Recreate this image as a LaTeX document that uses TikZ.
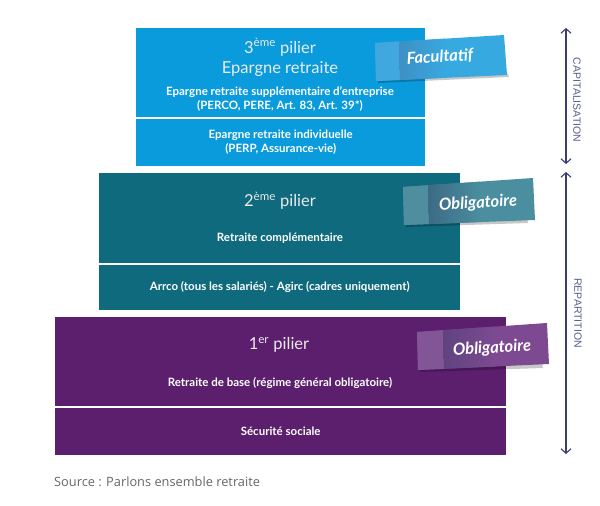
\documentclass[tikz,border=0pt]{standalone}
\usepackage{fontspec}
\usepackage{xcolor}
\setmainfont{Lato}
\newfontfamily\sourcefont{Open Sans}
\newfontfamily\labelfont{Liberation Sans}
\usetikzlibrary{arrows.meta, positioning, calc}

\definecolor{blueblock}{HTML}{0A9BDC}
\definecolor{tealblock}{HTML}{0E6A7C}
\definecolor{purpleblock}{HTML}{5B1F6D}
\definecolor{bluetag}{HTML}{37A9E1}
\definecolor{bluetagdark}{HTML}{3E8FC4}
\definecolor{bluetaglight}{HTML}{40A8DE}
\definecolor{tealtag}{HTML}{4A8EA0}
\definecolor{tealtagdark}{HTML}{3D6A85}
\definecolor{tealtaglight}{HTML}{4F8E9E}
\definecolor{purpletag}{HTML}{7D4A92}
\definecolor{purpletagdark}{HTML}{5F437F}
\definecolor{purpletaglight}{HTML}{825596}
\definecolor{arrowblue}{HTML}{3A3E72}

\tikzset{
    pillarbox/.style={rectangle, inner sep=0pt},
    titletext/.style={text=white!92!black, font=\fontsize{16.5}{20.5}\selectfont, align=center, inner sep=0pt},
    subtext/.style={text=white, font=\fontsize{11.5}{13.5}\selectfont\bfseries, align=center, inner sep=0pt},
    tagtext/.style={text=white, font=\fontsize{16.5}{18}\selectfont\bfseries\itshape, inner sep=0pt},
    axistext/.style={text=arrowblue!85!white, font=\labelfont\fontsize{10.5}{12}\selectfont, rotate=-90, inner sep=0pt},
    axisline/.style={{Straight Barb[length=4.5pt,width=10pt]}-{Straight Barb[length=4.5pt,width=10pt]}, draw=arrowblue, line width=1.1pt},
    tagshadow/.style={fill=black, opacity=0.22},
}

\begin{document}
\begin{tikzpicture}[x=1pt, y=-1pt]
    \useasboundingbox (0,0) rectangle (600,506);

    % pillars
    \node[pillarbox, fill=blueblock, minimum width=289pt, minimum height=89pt, anchor=north west] (epargnetop) at (136,28) {};
    \node[pillarbox, fill=blueblock, minimum width=289pt, minimum height=47pt, below=1pt of epargnetop] (epargnelow) {};
    \node[pillarbox, fill=tealblock, minimum width=361pt, minimum height=90pt, anchor=north west] (complementtop) at (99,173) {};
    \node[pillarbox, fill=tealblock, minimum width=361pt, minimum height=45pt, below=1pt of complementtop] (complementlow) {};
    \node[pillarbox, fill=purpleblock, minimum width=451pt, minimum height=89pt, anchor=north west] (basetop) at (55,317) {};
    \node[pillarbox, fill=purpleblock, minimum width=451pt, minimum height=47pt, below=1pt of basetop] (baselow) {};

    % texts
    \node[titletext] (epargnetitle) at (280,57.5) {3\textsuperscript{ème} pilier\\Epargne retraite};
    \node[subtext] (epargnesub) at (280,99) {Epargne retraite supplémentaire d'entreprise\\(PERCO, PERE, Art. 83, Art. 39*)};
    \node[subtext] (epargneind) at (epargnelow) {Epargne retraite individuelle\\(PERP, Assurance-vie)};
    \node[titletext] (complementtitle) at (280,201) {2\textsuperscript{ème} pilier};
    \node[subtext] (complementsub) at (280,238) {Retraite complémentaire};
    \node[subtext] (complementind) at (complementlow) {Arrco (tous les salariés) - Agirc (cadres uniquement)};
    \node[titletext] (basetitle) at (279,345) {1\textsuperscript{er} pilier};
    \node[subtext] (basesub) at (280,383) {Retraite de base (régime général obligatoire)};
    \node[subtext] (baseind) at (baselow) {Sécurité sociale};

    % tags
    \fill[tagshadow] (378,83) -- (509,77) -- (506,70) -- (378,76) -- cycle;
    \fill[bluetag] (375,43) -- (504,35) -- (507,75) -- (376,81) -- cycle;
    \fill[bluetaglight] (375,43) -- (399,41.5) -- (400,80) -- (376,81) -- cycle;
    \shade[left color=bluetagdark, right color=bluetag] (399,41.5) -- (445,38.7) -- (446,77.8) -- (400,80) -- cycle;
    \node[tagtext, rotate=3.5] (tagfacultatif) at (440,57) {Facultatif};

    \fill[tagshadow] (406,227) -- (528,223) -- (526,215) -- (406,220) -- cycle;
    \fill[tealtag] (403,187) -- (533,178) -- (535,220) -- (404,225) -- cycle;
    \fill[tealtaglight] (403,187) -- (428,185.3) -- (429,224) -- (404,225) -- cycle;
    \shade[left color=tealtagdark, right color=tealtag] (428,185.3) -- (480,181.7) -- (481,222) -- (429,224) -- cycle;
    \node[tagtext, rotate=3.5] (tagcomplement) at (478,203.5) {Obligatoire};

    \fill[tagshadow] (420,372) -- (543,368) -- (541,360) -- (420,365) -- cycle;
    \fill[purpletag] (417,332) -- (547,323) -- (549,364) -- (418,370) -- cycle;
    \fill[purpletaglight] (417,332) -- (443,330.2) -- (444,368.8) -- (418,370) -- cycle;
    \shade[left color=purpletagdark, right color=purpletag] (443,330.2) -- (495,326.6) -- (496,366.4) -- (444,368.8) -- cycle;
    \node[tagtext, rotate=3.5] (tagbase) at (492,348.5) {Obligatoire};

    % axis
    \coordinate (captop) at (566,28);
    \coordinate (capbot) at (566,164);
    \coordinate (reptop) at (566,172);
    \coordinate (repbot) at (566,454);
    \draw[axisline] (captop) -- (capbot);
    \draw[axisline] (reptop) -- (repbot);
    \node[axistext] (caplabel) at (577,100) {CAPITALISATION};
    \node[axistext] (replabel) at (578,313) {REPARTITION};

    \node[text=black!60, font=\sourcefont\fontsize{12.8}{15}\selectfont, anchor=west, inner sep=0pt] (source) at (54,482) {Source : Parlons ensemble retraite};
\end{tikzpicture}
\end{document}
